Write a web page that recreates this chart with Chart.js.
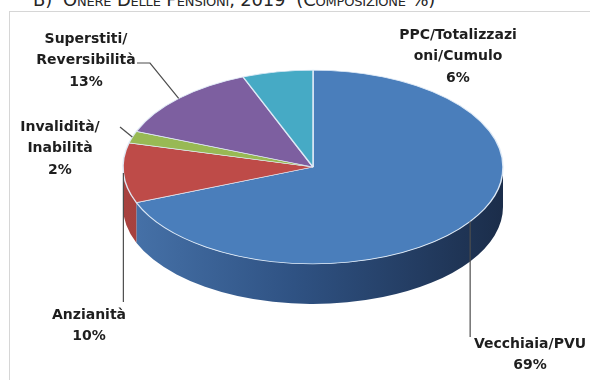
<!DOCTYPE html>
<html>
<head>
<meta charset="utf-8">
<script src="https://cdn.jsdelivr.net/npm/chart.js@4.4.1/dist/chart.umd.min.js"></script>
<style>
  html, body { margin: 0; padding: 0; background: #fff; }
  #wrap { position: relative; width: 590px; height: 380px; overflow: hidden; background: #fff; }
  #frame { position: absolute; left: 9px; top: 11px; width: 640px; height: 420px;
           border: 1px solid #d6d6d6; box-sizing: border-box; }
  #title { position: absolute; left: 33px; top: -9px; font-family: "DejaVu Sans", sans-serif;
           font-size: 18px; line-height: 18px; font-variant: small-caps; color: #262626;
           letter-spacing: -0.2px; white-space: nowrap; }
  #chart { position: absolute; left: 0; top: 0; }
</style>
</head>
<body>
<div id="wrap">
  <div id="frame"></div>
  <div id="title">B)&nbsp; Onere Delle Pensioni, 2019 &nbsp;(Composizione %)</div>
  <canvas id="chart" width="590" height="380"></canvas>
</div>
<script>
// Pension spending by type, 2019 (% of total)
const categories = [
  ['Vecchiaia/PVU'],
  ['Anzianità'],
  ['Invalidità/', 'Inabilità'],
  ['Superstiti/', 'Reversibilità'],
  ['PPC/Totalizzazi', 'oni/Cumulo']
];
const shares = [69, 10, 2, 13, 6];

// Top-face and side-wall palettes
const faceColors = ['#4a7ebb', '#be4b48', '#98b954', '#7d5fa0', '#46aac5'];
const wallStops = [
  [[0, '#4773aa'], [0.45, '#2f5283'], [1, '#1b2d4a']],
  [[0, '#a8423f'], [1, '#8a302d']],
  [[0, '#7a9443'], [1, '#5f7434']],
  [[0, '#5f4780'], [1, '#4a3764']],
  [[0, '#358aa0'], [1, '#276a7c']]
];

// Where each data label sits and how its leader line bends
const labelLayout = [
  { cx: 530, top: 344, leader: a => [[a.x, a.y], [a.x, 337]] },
  { cx: 89,  top: 315, leader: a => [[a.x, a.y], [a.x, 302]] },
  { cx: 60,  top: 127, leader: a => [[a.x, a.y], [120, 127]] },
  { cx: 86,  top: 39,  leader: a => [[a.x, a.y], [150, 63], [137, 63]] },
  { cx: 458, top: 35,  leader: null }
];

// Squashes the pie into a tilted disc and draws the front side walls
const tiltPlugin = {
  id: 'tilt',
  beforeDatasetsDraw(chart, args, opts) {
    const ctx = chart.ctx;
    const arcs = chart.getDatasetMeta(0).data;
    const k = opts.ratio, depth = opts.depth;
    const { x, y, outerRadius: R } = arcs[0].getProps(['x', 'y', 'outerRadius'], true);
    arcs.forEach((arc, i) => {
      const p = arc.getProps(['startAngle', 'endAngle'], true);
      const a1 = Math.max(p.startAngle, 0);
      const a2 = Math.min(p.endAngle, Math.PI);
      if (a2 <= a1) return;
      const g = ctx.createLinearGradient(x - R, 0, x + R, 0);
      wallStops[i].forEach(s => g.addColorStop(s[0], s[1]));
      ctx.save();
      ctx.beginPath();
      ctx.ellipse(x, y, R, R * k, 0, a1, a2, false);
      ctx.ellipse(x, y + depth, R, R * k, 0, a2, a1, true);
      ctx.closePath();
      ctx.fillStyle = g;
      ctx.fill();
      ctx.restore();
    });
    ctx.save();
    ctx.translate(x, y);
    ctx.scale(1, k);
    ctx.translate(-x, -y);
  },
  afterDatasetsDraw(chart) {
    chart.ctx.restore();
  }
};

// Data labels with leader lines
const labelPlugin = {
  id: 'sliceLabels',
  afterDraw(chart, args, opts) {
    const ctx = chart.ctx;
    const arcs = chart.getDatasetMeta(0).data;
    const k = chart.options.plugins.tilt.ratio;
    const values = chart.data.datasets[0].data;
    ctx.save();
    arcs.forEach((arc, i) => {
      const p = arc.getProps(['x', 'y', 'startAngle', 'endAngle', 'outerRadius'], true);
      const m = (p.startAngle + p.endAngle) / 2;
      const anchor = { x: p.x + p.outerRadius * Math.cos(m), y: p.y + p.outerRadius * k * Math.sin(m) };
      const lay = labelLayout[i];
      if (lay.leader) {
        const pts = lay.leader(anchor);
        ctx.beginPath();
        ctx.moveTo(pts[0][0], pts[0][1]);
        for (let j = 1; j < pts.length; j++) ctx.lineTo(pts[j][0], pts[j][1]);
        ctx.strokeStyle = opts.lineColor;
        ctx.lineWidth = 1.2;
        ctx.stroke();
      }
      const lines = chart.data.labels[i].concat([values[i] + '%']);
      ctx.fillStyle = opts.color;
      ctx.font = opts.font;
      ctx.textAlign = 'center';
      ctx.textBaseline = 'middle';
      lines.forEach((t, j) => ctx.fillText(t, lay.cx, lay.top + j * opts.lineHeight));
    });
    ctx.restore();
  }
};

new Chart(document.getElementById('chart'), {
  type: 'pie',
  data: {
    labels: categories,
    datasets: [{
      data: shares,
      backgroundColor: faceColors,
      borderColor: 'rgba(225,236,248,0.95)',
      borderWidth: 1.5,
      clip: false
    }]
  },
  options: {
    responsive: false,
    animation: false,
    events: [],
    radius: 190,
    layout: { padding: { left: 36, right: 0, top: 0, bottom: 46 } },
    plugins: {
      legend: { display: false },
      tooltip: { enabled: false },
      tilt: { ratio: 0.51, depth: 40 },
      sliceLabels: {
        font: 'bold 14px "DejaVu Sans"',
        color: '#1e1e1e',
        lineColor: '#4d4d4d',
        lineHeight: 21.5
      }
    }
  },
  plugins: [tiltPlugin, labelPlugin]
});
</script>
</body>
</html>
